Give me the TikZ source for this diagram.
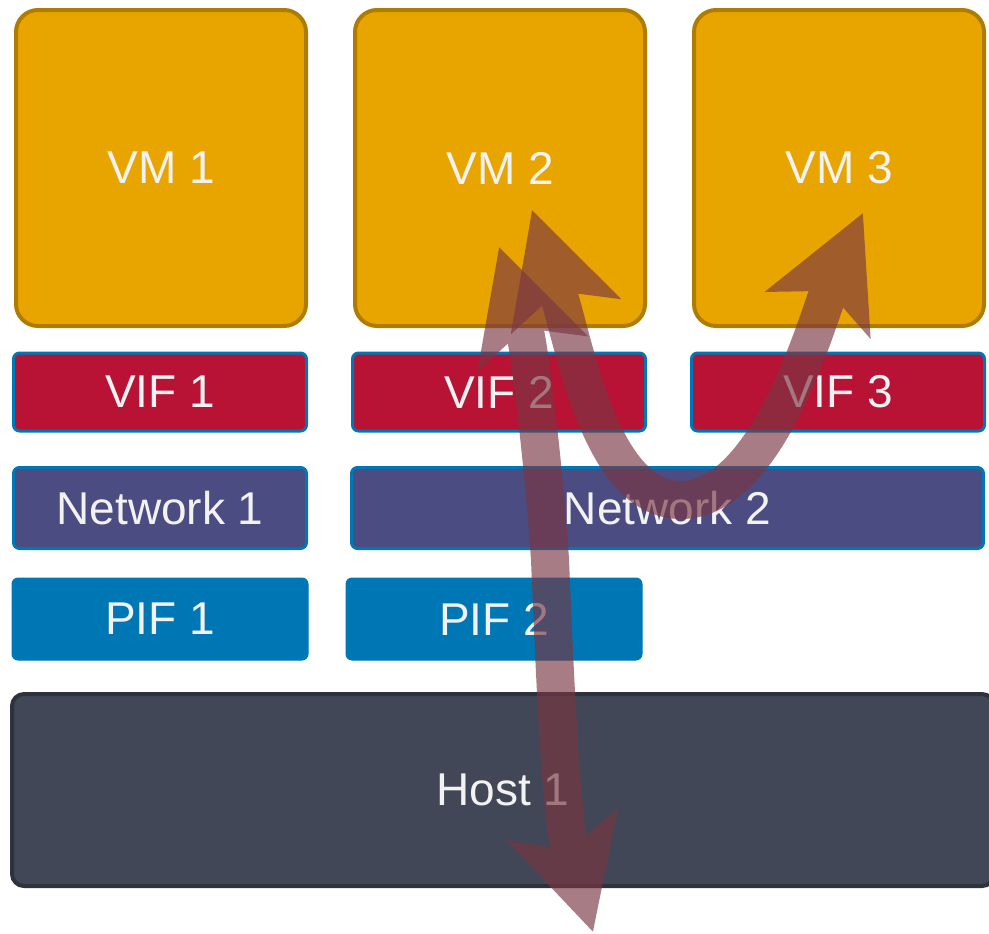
\documentclass[tikz,border=0pt]{standalone}
\usepackage{fontspec}
\setmainfont{Liberation Sans}
\usepackage{tikz}
\usetikzlibrary{positioning, arrows.meta}
\definecolor{vmfill}{RGB}{232,165,0}
\definecolor{vmline}{RGB}{176,124,0}
\definecolor{viffill}{RGB}{184,18,52}
\definecolor{netfill}{RGB}{74,76,130}
\definecolor{pifblue}{RGB}{0,119,181}
\definecolor{hostfill}{RGB}{65,71,86}
\definecolor{hostline}{RGB}{46,50,60}
\definecolor{flowred}{RGB}{122,54,66}
\definecolor{labelwhite}{RGB}{242,242,242}
\tikzset{
  layerbox/.style = {draw, rectangle, inner sep=0pt, align=center,
                     text=labelwhite, font=\fontsize{23}{27}\selectfont},
  vmbox/.style    = {layerbox, fill=vmfill, draw=vmline, line width=2pt,
                     rounded corners=11pt, minimum width=145pt,
                     minimum height=158pt},
  vifbox/.style   = {layerbox, fill=viffill, draw=pifblue, line width=1.5pt,
                     rounded corners=3pt, minimum width=146.5pt,
                     minimum height=39pt},
  netbox/.style   = {layerbox, fill=netfill, draw=pifblue, line width=1.5pt,
                     rounded corners=3pt, minimum height=40.5pt},
  pifbox/.style   = {layerbox, fill=pifblue, draw=pifblue, line width=0.5pt,
                     rounded corners=3pt, minimum width=148pt,
                     minimum height=41pt},
  hostbox/.style  = {layerbox, fill=hostfill, draw=hostline, line width=2pt,
                     rounded corners=6pt, minimum width=491pt,
                     minimum height=96pt},
  flowarrow/.style = {>={Stealth[length=55pt,width=56pt,inset=12.5pt]}, <->,
                      line width=19pt, draw=flowred}
}
\begin{document}
\begin{tikzpicture}[x=0.5pt, y=-0.5pt]
  \useasboundingbox (0,0) rectangle (989,933);

  \node[vmbox] (vm1) at (161,168) {VM 1};
  \node[vmbox] (vm2) at (500,168) {VM 2};
  \node[vmbox] (vm3) at (839,168) {VM 3};

  \node[vifbox] (vif1) at (160,392) {VIF 1};
  \node[vifbox] (vif2) at (499,392) {VIF 2};
  \node[vifbox] (vif3) at (838,392) {VIF 3};

  \node[netbox, minimum width=146.5pt] (net1) at (160,508) {Network 1};
  \node[netbox, minimum width=316pt]   (net2) at (667.5,508) {Network 2};

  \node[pifbox] (pif1) at (160,619) {PIF 1};
  \node[pifbox] (pif2) at (494,619) {PIF 2};

  \node[hostbox] (host1) at (503,790) {Host 1};

  \coordinate (vm2in)   at (499,247);
  \coordinate (pifpass) at (550,560);
  \coordinate (hostout) at (593,932);
  \coordinate (vm2tip)  at (532,210);
  \coordinate (vm3tip)  at (863,213);
  \coordinate (netdip)  at (681,500);

  \begin{scope}[transparency group, opacity=0.65]
    \draw[flowarrow] (vm2in) .. controls (530,345) and (545,480) .. (pifpass)
                             .. controls (555,680) and (561,820) .. (hostout);
  \end{scope}
  \begin{scope}[transparency group, opacity=0.65]
    \draw[flowarrow] (vm2tip) .. controls (575,345) and (600,500) .. (netdip)
                              .. controls (770,500) and (820,310) .. (vm3tip);
  \end{scope}
\end{tikzpicture}
\end{document}
